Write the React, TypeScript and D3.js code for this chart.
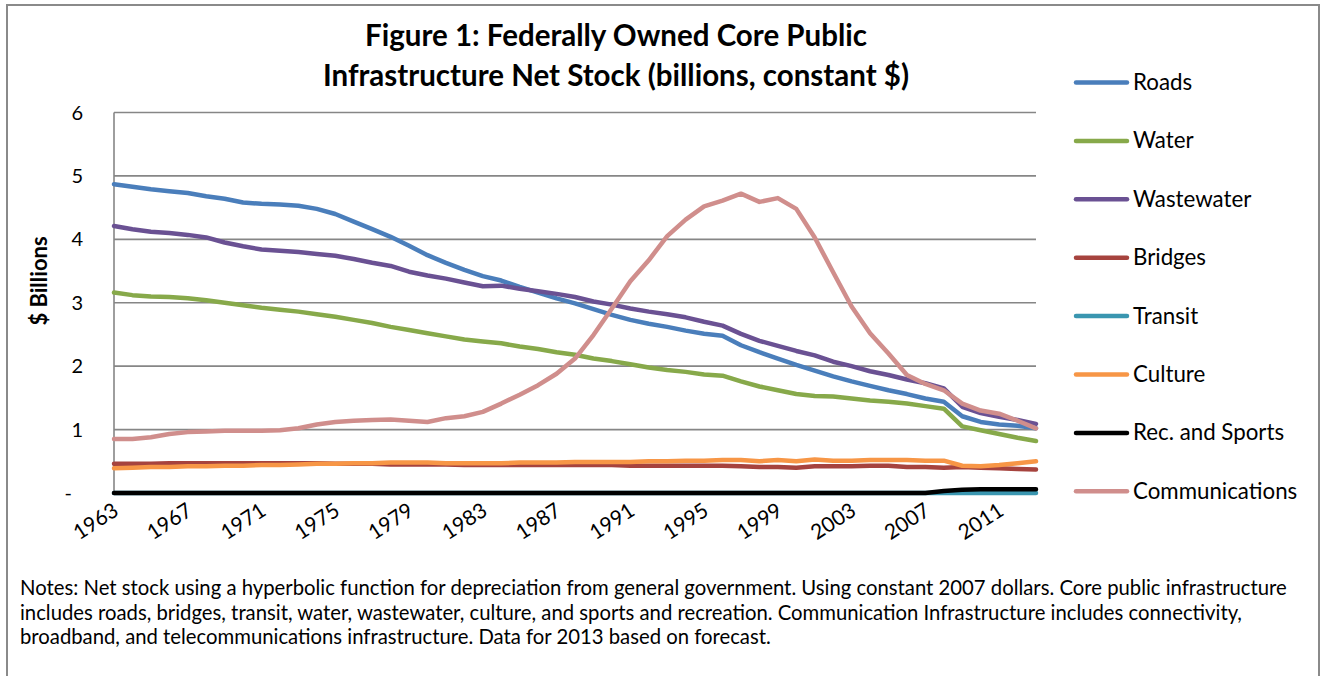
import React from "react";
import * as d3 from "d3";

const years: number[] = d3.range(1963, 2014);

const roads = [4.87, 4.83, 4.79, 4.76, 4.73, 4.68, 4.64, 4.58, 4.56, 4.55, 4.53, 4.48, 4.40, 4.28, 4.16, 4.04, 3.90, 3.75, 3.63, 3.52, 3.42, 3.35, 3.25, 3.16, 3.07, 2.99, 2.90, 2.81, 2.73, 2.67, 2.62, 2.56, 2.51, 2.48, 2.33, 2.22, 2.12, 2.02, 1.93, 1.84, 1.76, 1.69, 1.62, 1.56, 1.49, 1.44, 1.21, 1.12, 1.08, 1.06, 1.02];
const water = [3.16, 3.12, 3.10, 3.09, 3.07, 3.04, 3.00, 2.96, 2.92, 2.89, 2.86, 2.82, 2.78, 2.73, 2.68, 2.62, 2.57, 2.52, 2.47, 2.42, 2.39, 2.36, 2.31, 2.27, 2.22, 2.18, 2.12, 2.08, 2.03, 1.98, 1.94, 1.91, 1.87, 1.85, 1.76, 1.68, 1.62, 1.56, 1.53, 1.52, 1.49, 1.46, 1.44, 1.41, 1.37, 1.33, 1.05, 0.99, 0.93, 0.87, 0.82];
const wastewater = [4.21, 4.16, 4.12, 4.10, 4.07, 4.03, 3.95, 3.89, 3.84, 3.82, 3.80, 3.77, 3.74, 3.69, 3.63, 3.58, 3.49, 3.43, 3.38, 3.32, 3.26, 3.27, 3.22, 3.18, 3.14, 3.09, 3.02, 2.97, 2.91, 2.86, 2.82, 2.77, 2.70, 2.64, 2.51, 2.40, 2.32, 2.24, 2.17, 2.07, 2.00, 1.92, 1.86, 1.79, 1.73, 1.65, 1.36, 1.26, 1.20, 1.15, 1.09];
const bridges = [0.46, 0.46, 0.46, 0.47, 0.47, 0.47, 0.47, 0.47, 0.47, 0.47, 0.47, 0.47, 0.46, 0.46, 0.46, 0.45, 0.45, 0.45, 0.45, 0.44, 0.44, 0.44, 0.44, 0.44, 0.44, 0.44, 0.44, 0.44, 0.43, 0.43, 0.43, 0.43, 0.43, 0.43, 0.42, 0.41, 0.41, 0.40, 0.42, 0.42, 0.42, 0.43, 0.43, 0.41, 0.41, 0.40, 0.41, 0.40, 0.39, 0.38, 0.37];
const transit = years.map(() => 0);
const culture = [0.39, 0.40, 0.41, 0.41, 0.42, 0.42, 0.43, 0.43, 0.44, 0.44, 0.45, 0.46, 0.46, 0.47, 0.47, 0.48, 0.48, 0.48, 0.47, 0.47, 0.47, 0.47, 0.48, 0.48, 0.48, 0.49, 0.49, 0.49, 0.49, 0.50, 0.50, 0.51, 0.51, 0.52, 0.52, 0.50, 0.52, 0.50, 0.53, 0.51, 0.51, 0.52, 0.52, 0.52, 0.51, 0.51, 0.43, 0.42, 0.44, 0.47, 0.50];
const recSports = [0, 0, 0, 0, 0, 0, 0, 0, 0, 0, 0, 0, 0, 0, 0, 0, 0, 0, 0, 0, 0, 0, 0, 0, 0, 0, 0, 0, 0, 0, 0, 0, 0, 0, 0, 0, 0, 0, 0, 0, 0, 0, 0, 0, 0, 0.03, 0.05, 0.06, 0.06, 0.06, 0.06];
const communications = [0.85, 0.85, 0.88, 0.93, 0.96, 0.97, 0.98, 0.98, 0.98, 0.99, 1.02, 1.08, 1.12, 1.14, 1.15, 1.16, 1.14, 1.12, 1.18, 1.21, 1.28, 1.41, 1.55, 1.70, 1.88, 2.12, 2.49, 2.91, 3.34, 3.67, 4.05, 4.31, 4.52, 4.61, 4.72, 4.59, 4.65, 4.48, 4.03, 3.48, 2.94, 2.52, 2.20, 1.86, 1.72, 1.62, 1.41, 1.30, 1.25, 1.14, 1.02];

const seriesNames = ["Roads", "Water", "Wastewater", "Bridges", "Transit", "Culture", "Rec. and Sports", "Communications"];
const seriesValues = [roads, water, wastewater, bridges, transit, culture, recSports, communications];
const seriesColors = ["#4A7EBB", "#87A94A", "#6A5193", "#A6433E", "#3A96B0", "#F79646", "#000000", "#D08E8C"];

const yTicks = [0, 1, 2, 3, 4, 5, 6];
const yTickLabels = ["-", "1", "2", "3", "4", "5", "6"];
const xLabelYears = d3.range(1963, 2014, 4);

const titleLines = ["Figure 1: Federally Owned Core Public", "Infrastructure Net Stock (billions, constant $)"];
const noteLines = [
  "Notes: Net stock using a hyperbolic function for depreciation from general government. Using constant 2007 dollars. Core public infrastructure",
  "includes roads, bridges, transit, water, wastewater, culture, and sports and recreation. Communication Infrastructure includes connectivity,",
  "broadband, and telecommunications infrastructure. Data for 2013 based on forecast.",
];

const FONT = "Lato, 'Open Sans', sans-serif";

export default function App() {
  const W = 1325, H = 676;
  const x = d3.scaleLinear().domain([1963, 2013]).range([114, 1036]);
  const y = d3.scaleLinear().domain([0, 6]).range([493, 112.5]);
  const line = d3.line<number>().x((_, i) => x(years[i])).y((v) => y(v));

  return (
    <svg width={W} height={H} style={{ position: "absolute", left: 0, top: 0, background: "#fff" }} fontFamily={FONT}>
      <rect x={7} y={5} width={1312} height={700} fill="#fff" stroke="#8a8a8a" strokeWidth={2} />
      {titleLines.map((t, i) => (
        <text key={t} x={616} y={46 + i * 40} textAnchor="middle" fontSize={29.5} fontWeight="bold" fill="#000">{t}</text>
      ))}
      {yTicks.filter((t) => t > 0).map((t) => (
        <line key={t} x1={114} x2={1036} y1={y(t)} y2={y(t)} stroke="#868686" strokeWidth={1.6} />
      ))}
      <line x1={114} x2={114} y1={y(6)} y2={y(0)} stroke="#868686" strokeWidth={1.6} />
      <line x1={114} x2={1036} y1={y(0)} y2={y(0)} stroke="#868686" strokeWidth={1.6} />
      {yTicks.map((t, i) => (
        <text key={t} x={t === 0 ? 72 : 83} y={y(t) + 7} textAnchor="end" fontSize={20} fill="#000">{yTickLabels[i]}</text>
      ))}
      <text transform="translate(47,281) rotate(-90)" textAnchor="middle" fontSize={22} fontWeight="bold" fill="#000">$ Billions</text>
      {xLabelYears.map((yr) => (
        <text key={yr} transform={`translate(${x(yr) + 6},${514}) rotate(-33)`} textAnchor="end" fontSize={21} fill="#000">{yr}</text>
      ))}
      {seriesValues.map((vals, si) => (
        <path key={seriesNames[si]} d={line(vals) || ""} fill="none" stroke={seriesColors[si]} strokeWidth={4.5} strokeLinejoin="round" strokeLinecap="round" />
      ))}
      {seriesNames.map((n, i) => {
        const ly = 82.5 + i * 58.4;
        return (
          <g key={n}>
            <line x1={1076} x2={1127} y1={ly} y2={ly} stroke={seriesColors[i]} strokeWidth={4.5} strokeLinecap="round" />
            <text x={1133} y={ly + 7.5} fontSize={22.3} fill="#000">{n}</text>
          </g>
        );
      })}
      {noteLines.map((t, i) => (
        <text key={i} x={20} y={595 + i * 24.5} fontSize={20.3} fill="#000">{t}</text>
      ))}
    </svg>
  );
}
